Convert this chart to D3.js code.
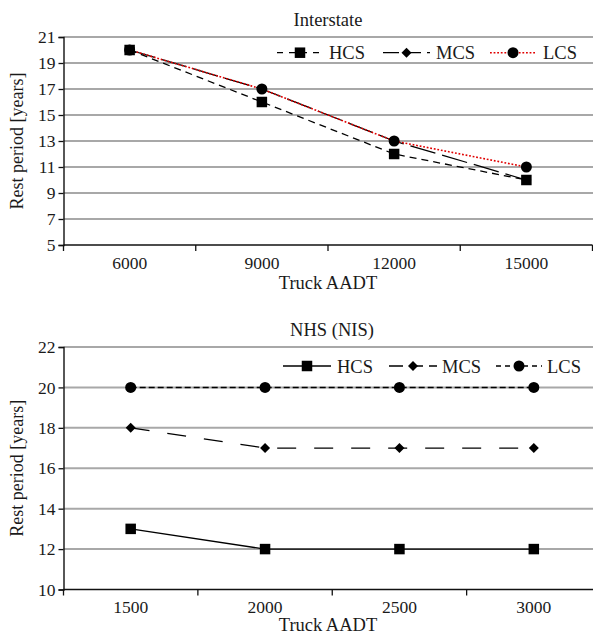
<!DOCTYPE html>
<html>
<head>
<meta charset="utf-8">
<script src="https://cdn.jsdelivr.net/npm/d3@7"></script>
<style>
  html, body { margin: 0; padding: 0; background: #fff; }
  svg text { font-family: "Liberation Serif", "DejaVu Serif", serif; fill: #1a1a1a; }
</style>
</head>
<body>
<svg id="chart" width="593" height="634"></svg>
<script>
// ---- Data ----
const topCategories = ["6000", "9000", "12000", "15000"];
const topHCS = [20, 16, 12, 10];
const topMCS = [20, 17, 13, 10];
const topLCS = [20, 17, 13, 11];
const topYTicks = [5, 7, 9, 11, 13, 15, 17, 19, 21];

const botCategories = ["1500", "2000", "2500", "3000"];
const botHCS = [13, 12, 12, 12];
const botMCS = [18, 17, 17, 17];
const botLCS = [20, 20, 20, 20];
const botYTicks = [10, 12, 14, 16, 18, 20, 22];

const seriesNames = ["HCS", "MCS", "LCS"];

const svg = d3.select("#chart");

function drawPanel(cfg) {
  const g = svg.append("g");
  const x = d3.scaleBand().domain(cfg.categories).range([cfg.x0, cfg.x1]).paddingInner(0).paddingOuter(0);
  const y = d3.scaleLinear().domain(cfg.yDomain).range([cfg.y1, cfg.y0]);
  const cx = c => x(c) + x.bandwidth() / 2;

  // gridlines
  g.append("g").selectAll("line").data(cfg.yTicks.filter(t => t !== cfg.yDomain[0]))
    .join("line")
    .attr("x1", cfg.x0).attr("x2", 593)
    .attr("y1", d => y(d)).attr("y2", d => y(d))
    .attr("stroke", "#a8a8a8").attr("stroke-width", 2);

  // y axis
  const ya = g.append("g").attr("transform", `translate(${cfg.x0},0)`)
    .call(d3.axisLeft(y).tickValues(cfg.yTicks).tickSize(5).tickPadding(3).tickFormat(d3.format("d")));
  ya.select(".domain").attr("stroke", "#111").attr("stroke-width", 1.4);
  ya.selectAll(".tick line").attr("stroke", "#111").attr("stroke-width", 1.3);
  ya.selectAll(".tick text").attr("font-size", 17.5).attr("font-family", "Liberation Serif").attr("fill", "#1a1a1a");

  // x axis
  const xa = g.append("g").attr("transform", `translate(0,${cfg.y1})`)
    .call(d3.axisBottom(x).tickSize(0).tickPadding(0));
  xa.select(".domain").remove();
  xa.selectAll(".tick text").attr("font-size", 17.5).attr("font-family", "Liberation Serif")
    .attr("fill", "#1a1a1a").attr("dy", null).attr("y", cfg.tickBaseline - cfg.y1);
  g.append("line").attr("x1", cfg.x0).attr("x2", Math.min(cfg.x1, 593))
    .attr("y1", cfg.y1).attr("y2", cfg.y1).attr("stroke", "#111").attr("stroke-width", 1.4);
  const bounds = cfg.categories.map(c => x(c)).concat([x(cfg.categories[cfg.categories.length - 1]) + x.bandwidth()]);
  g.append("g").selectAll("line").data(bounds).join("line")
    .attr("x1", d => d).attr("x2", d => d)
    .attr("y1", cfg.y1).attr("y2", cfg.y1 + 6)
    .attr("stroke", "#111").attr("stroke-width", 1.3);

  // title
  g.append("text").attr("x", cfg.titleX).attr("y", cfg.titleY).attr("text-anchor", "middle")
    .attr("font-size", 18.5).text(cfg.title);
  // x label
  g.append("text").attr("x", 328).attr("y", cfg.xLabelY).attr("text-anchor", "middle")
    .attr("font-size", 18.5).text("Truck AADT");
  // y label
  g.append("text").attr("transform", `translate(23,${(cfg.y0 + cfg.y1) / 2}) rotate(-90)`)
    .attr("text-anchor", "middle").attr("font-size", 18).text("Rest period [years]");

  const line = d3.line().x(d => cx(d.c)).y(d => y(d.v));

  const markerPath = (kind, s) => {
    if (kind === "square") return d3.symbol(d3.symbolSquare, s * s)();
    if (kind === "circle") return d3.symbol(d3.symbolCircle, Math.PI * (s / 2) * (s / 2))();
    return d3.symbol(d3.symbolSquare, (s / Math.SQRT2) * (s / Math.SQRT2))();
  };

  const order = cfg.drawOrder || [0, 1, 2];
  order.forEach(idx => {
    const s = cfg.series[idx];
    const pts = cfg.categories.map((c, i) => ({ c, v: s.values[i] }));
    g.append("path").datum(pts).attr("d", line)
      .attr("fill", "none").attr("stroke", s.color).attr("stroke-width", s.width)
      .attr("stroke-dasharray", s.dash);
    g.append("g").selectAll("path").data(pts).join("path")
      .attr("d", markerPath(s.marker, s.size))
      .attr("transform", d => `translate(${cx(d.c)},${y(d.v)})` + (s.marker === "diamond" ? " rotate(45)" : ""))
      .attr("fill", "#000");
  });

  // legend
  cfg.series.forEach((s, i) => {
    const L = cfg.legend[i];
    g.append("line").attr("x1", L.x1).attr("x2", L.x2).attr("y1", cfg.legendY).attr("y2", cfg.legendY)
      .attr("stroke", s.color).attr("stroke-width", s.width).attr("stroke-dasharray", s.legendDash || s.dash);
    g.append("path").attr("d", markerPath(s.marker, s.size))
      .attr("transform", `translate(${(L.x1 + L.x2) / 2},${cfg.legendY})` + (s.marker === "diamond" ? " rotate(45)" : ""))
      .attr("fill", "#000");
    g.append("text").attr("x", L.tx).attr("y", cfg.legendY + 6.5).attr("font-size", 18.5).text(seriesNames[i]);
  });
}

drawPanel({
  title: "Interstate", titleX: 328, titleY: 26,
  categories: topCategories, x0: 63.5, x1: 592.5,
  yDomain: [5, 21], yTicks: topYTicks, y0: 37, y1: 245,
  tickBaseline: 268.5, xLabelY: 289,
  legendY: 52.7,
  drawOrder: [1, 2, 0],
  legend: [{ x1: 277, x2: 323, tx: 329 }, { x1: 383, x2: 430, tx: 436 }, { x1: 490, x2: 536, tx: 543 }],
  series: [
    { values: topHCS, color: "#000", width: 1.3, dash: "7,5", legendDash: "6,6", marker: "square", size: 10.5 },
    { values: topMCS, color: "#000", width: 1.3, dash: "26,7", legendDash: "16,6", marker: "diamond", size: 10 },
    { values: topLCS, color: "#e00000", width: 1.6, dash: "1.8,1.8", marker: "circle", size: 11 }
  ]
});

drawPanel({
  title: "NHS (NIS)", titleX: 332, titleY: 336,
  categories: botCategories, x0: 63.5, x1: 601,
  yDomain: [10, 22], yTicks: botYTicks, y0: 347, y1: 589.5,
  tickBaseline: 612.5, xLabelY: 631,
  legendY: 366,
  legend: [{ x1: 283, x2: 331, tx: 337 }, { x1: 389, x2: 437, tx: 442 }, { x1: 496, x2: 542, tx: 547 }],
  series: [
    { values: botHCS, color: "#000", width: 1.3, dash: null, marker: "square", size: 10.5 },
    { values: botMCS, color: "#000", width: 1.3, dash: "19,18", legendDash: "14,6", marker: "diamond", size: 10 },
    { values: botLCS, color: "#000", width: 1.5, dash: "6,3", legendDash: "5,4", marker: "circle", size: 11 }
  ]
});
</script>
</body>
</html>
